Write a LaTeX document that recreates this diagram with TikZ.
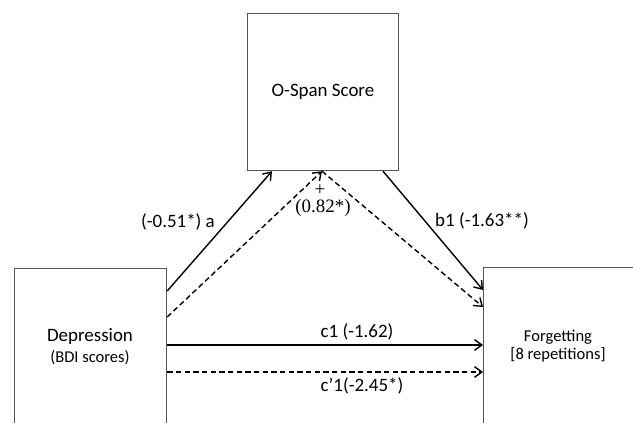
\documentclass[tikz,border=0pt]{standalone}
\usepackage{fontspec}
\setmainfont{Carlito}
\newfontfamily\serifface{Liberation Serif}
\usetikzlibrary{arrows.meta,calc}
\definecolor{boxgray}{HTML}{555555}
\begin{document}
\begin{tikzpicture}[x=0.75pt,y=-0.75pt,
  box/.style={draw=boxgray, line width=0.9pt, inner sep=0pt, anchor=north west},
  conn/.style={draw=black, line width=1.05pt, -{Straight Barb[length=5.5pt,width=8pt]}},
  dconn/.style={conn, dash pattern=on 4pt off 2.5pt},
  big/.style={font=\fontsize{14.2}{17}\selectfont, inner sep=0pt},
  small/.style={font=\fontsize{12.4}{15}\selectfont, inner sep=0pt},
  serif/.style={font=\serifface\fontsize{14.2}{17}\selectfont, inner sep=0pt}]
\useasboundingbox (0,0) rectangle (633,423);
\clip (0,0) rectangle (633,423);
% boxes
\node[box, minimum width=114pt, minimum height=129pt] (dep) at (14,268) {};
\node[box, minimum width=113.25pt, minimum height=117.75pt] (osp) at (247,13) {};
\node[box, minimum width=117.75pt, minimum height=129.75pt] (forg) at (483,267) {};
% box texts
\node[big] (deptxt) at (90,337) {Depression};
\node[small] (bdi) at (90,358) {(BDI scores)};
\node[big] (osptxt) at (323,92) {O-Span Score};
\node[small] (forgtxt) at (558,337) {Forgetting};
\node[small] (reps) at (558,355) {[8 repetitions]};
% connectors
\draw[conn] ($(dep.north east)+(0,23)$) -- ($(osp.south west)+(25,0)$);
\draw[dconn] ($(dep.north east)+(0,49)$) -- ($(osp.south west)+(75,0)$);
\draw[conn] ($(osp.south west)+(136,0)$) -- ($(forg.north west)+(0,23)$);
\draw[dconn] ($(osp.south west)+(75,0)$) -- ($(forg.north west)+(0,40)$);
\draw[conn] ($(dep.north east)+(0,77)$) -- ($(forg.north west)+(0,78)$);
\draw[dconn] ($(dep.north east)+(0,104)$) -- ($(forg.north west)+(0,105)$);
% labels
\node[big] (la) at (178,222) {(-0.51*) a};
\node[serif] (plus) at (320,190) {+};
\node[serif] (lb2) at (323,208) {(0.82*)};
\node[big] (lb) at (482,221) {b1 (-1.63**)};
\node[big] (lc) at (357,332) {c1 (-1.62)};
\node[big] (lcp) at (362,386) {c’1(-2.45*)};
\end{tikzpicture}
\end{document}
